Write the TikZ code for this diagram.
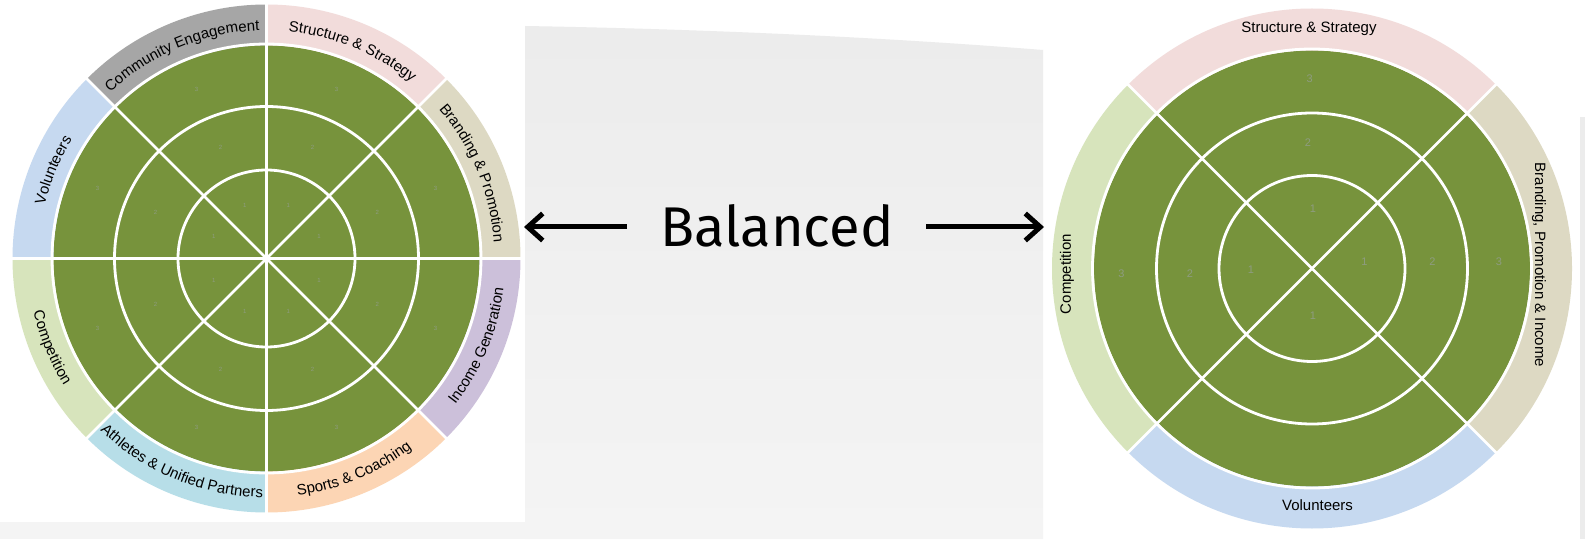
\documentclass[tikz,border=0pt]{standalone}
\usepackage{fontspec}
\setmainfont{Liberation Sans}
\newfontfamily\balfont{Fira Sans}
\usetikzlibrary{decorations.text,arrows.meta}
\definecolor{wgreen}{HTML}{77933C}
\definecolor{cGray}{HTML}{A6A6A6}
\definecolor{cPink}{HTML}{F2DCDB}
\definecolor{cBeige}{HTML}{DDD9C3}
\definecolor{cLav}{HTML}{CCC0DA}
\definecolor{cPeach}{HTML}{FCD5B4}
\definecolor{cAqua}{HTML}{B7DEE8}
\definecolor{cLime}{HTML}{D7E4BC}
\definecolor{cSky}{HTML}{C6D9F0}
\definecolor{numcol}{HTML}{8E9C80}
\definecolor{panelTop}{HTML}{ECECEC}
\definecolor{panelBot}{HTML}{F4F4F4}
\newcommand\labfont{\fontsize{15}{15}\selectfont}
\begin{document}
\begin{tikzpicture}[x=1pt,y=1pt,
  wline/.style={draw=white,line width=2.8pt},
  lab/.style={font=\labfont,inner sep=0pt},
  numL/.style={font=\fontsize{6}{6}\selectfont,text=numcol,inner sep=0pt},
  numR/.style={font=\fontsize{11}{11}\selectfont,text=numcol,inner sep=0pt},
  arr/.style={line width=5pt,-{Straight Barb[length=15pt,width=27pt]}},
  curvlab/.style={decorate,decoration={text along path,text align=center,text={#1}}}
]
\useasboundingbox (0,0) rectangle (1585,539);
\fill[white] (0,0) rectangle (1585,539);
% background panels
\shade[top color=panelTop,bottom color=panelBot]
  (525,0) -- (525,513) .. controls (700,510) and (880,502) .. (1043,489) -- (1043,0) -- cycle;
\fill[panelBot] (0,0) rectangle (525,17);
\fill[panelTop] (1580,0) rectangle (1585,422);

% ---------------- left wheel ----------------
\begin{scope}[shift={(266.5,280.5)}]
  \foreach \s/\c in {0/cBeige,45/cPink,90/cGray,135/cSky,180/cLime,225/cAqua,270/cPeach,315/cLav}
    \fill[\c] (0,0) -- (\s:254) arc[start angle=\s,end angle=\s+45,radius=254] -- cycle;
  \fill[wgreen] (0,0) circle[radius=213];
  \draw[wline] (0,0) circle[radius=214.5];
  \draw[wline] (0,0) circle[radius=152];
  \draw[wline] (0,0) circle[radius=88.5];
  \foreach \a in {0,45,...,315}
    \draw[wline] (0,0) -- (\a:257);
  \foreach \m [count=\i] in {22.5,67.5,112.5,157.5,202.5,247.5,292.5,337.5} {
    \node[numL] (lnA\i) at (\m:57) {1};
    \node[numL] (lnB\i) at (\m:120) {2};
    \node[numL] (lnC\i) at (\m:183) {3};
  }
  % curved labels, upper half (clockwise)
  \path[curvlab={|\labfont|Branding {\&} Promotion}] (45:228) arc[start angle=45,end angle=0,radius=228];
  \path[curvlab={|\labfont|Structure {\&} Strategy}] (90:228) arc[start angle=90,end angle=45,radius=228];
  \path[curvlab={|\labfont|Community Engagement}] (135:228) arc[start angle=135,end angle=90,radius=228];
  \path[curvlab={|\labfont|Volunteers}] (180:228) arc[start angle=180,end angle=135,radius=228];
  % lower half (counter-clockwise)
  \path[curvlab={|\labfont|Competition}] (180:239) arc[start angle=180,end angle=225,radius=239];
  \path[curvlab={|\labfont|Athletes {\&} Unified Partners}] (225:239) arc[start angle=225,end angle=270,radius=239];
  \path[curvlab={|\labfont|Sports {\&} Coaching}] (270:239) arc[start angle=270,end angle=315,radius=239];
  \path[curvlab={|\labfont|Income Generation}] (315:239) arc[start angle=315,end angle=360,radius=239];
\end{scope}

% ---------------- right wheel ----------------
\begin{scope}[shift={(1312,270.5)}]
  \foreach \s/\c in {-45/cBeige,45/cPink,135/cLime,225/cSky}
    \fill[\c] (0,0) -- (\s:260) arc[start angle=\s,end angle=\s+90,radius=260] -- cycle;
  \fill[wgreen] (0,0) circle[radius=218];
  \draw[wline] (0,0) circle[radius=219.5];
  \draw[wline] (0,0) circle[radius=155.5];
  \draw[wline] (0,0) circle[radius=93];
  \foreach \a in {45,135,225,315}
    \draw[wline] (0,0) -- (\a:263);
  \node[numR] (rt3) at (-2.4,189.5) {3};
  \node[numR] (rt2) at (-4,126) {2};
  \node[numR] (rt1) at (1,59.5) {1};
  \node[numR] (rr1) at (52.5,6.6) {1};
  \node[numR] (rr2) at (120.5,6.5) {2};
  \node[numR] (rr3) at (187,6.5) {3};
  \node[numR] (rl3) at (-190.7,-5.4) {3};
  \node[numR] (rl2) at (-122,-5.4) {2};
  \node[numR] (rl1) at (-61,-1.3) {1};
  \node[numR] (rb1) at (1,-47) {1};
\end{scope}
\node[lab] (rStruct) at (1309,510.2) {Structure \& Strategy};
\node[lab] (rVol) at (1317.5,34) {Volunteers};
\node[lab,rotate=90] (rComp) at (1067,265) {Competition};
\node[lab,rotate=-90] (rBrand) at (1539,274) {Branding, Promotion \& Income};

% ---------------- centre ----------------
\node[font=\balfont\fontsize{56}{56}\selectfont,anchor=base,inner sep=0pt] (bal) at (777,292.3) {Balanced};
\coordinate (la0) at (627,312);
\coordinate (la1) at (524,312);
\coordinate (ra0) at (926,312);
\coordinate (ra1) at (1044,312);
\draw[arr] (la0) -- (la1);
\draw[arr] (ra0) -- (ra1);
\end{tikzpicture}
\end{document}
